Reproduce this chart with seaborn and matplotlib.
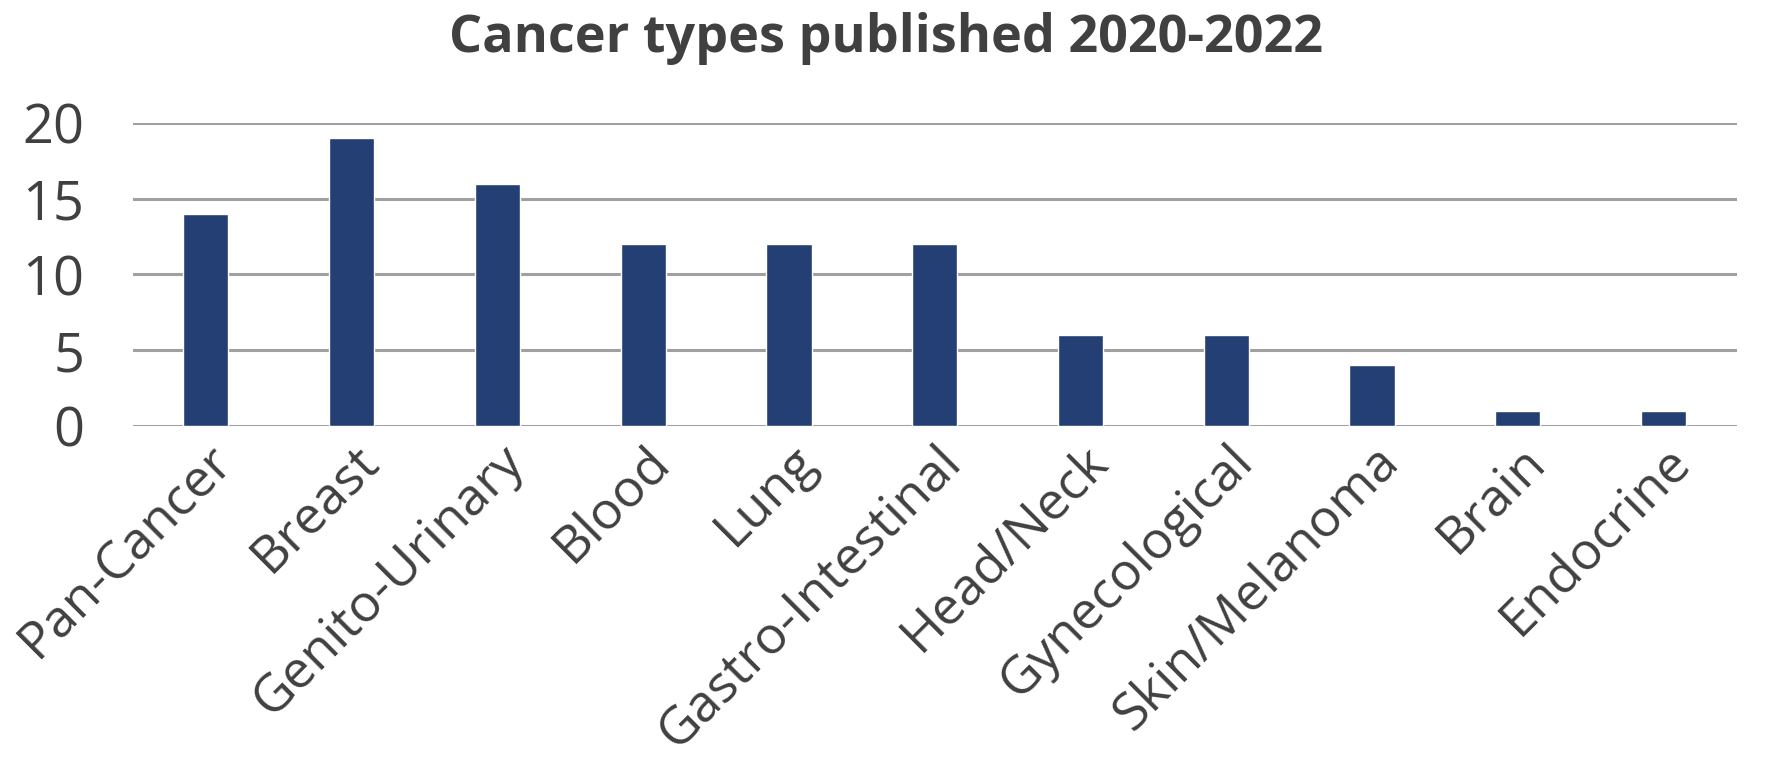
import matplotlib
matplotlib.use("Agg")
import matplotlib.pyplot as plt
import matplotlib.transforms as mtransforms
import pandas as pd
import seaborn as sns

cancer_types = [
    "Pan-Cancer", "Breast", "Genito-Urinary", "Blood", "Lung",
    "Gastro-Intestinal", "Head/Neck", "Gynecological", "Skin/Melanoma",
    "Brain", "Endocrine",
]
counts = [14, 19, 16, 12, 12, 12, 6, 6, 4, 1, 1]
y_ticks = [0, 5, 10, 15, 20]

TEXT = "#404040"
BAR = "#243F73"
GRID = "#A0A0A0"

sns.set_theme(style="white")
plt.rcParams["font.family"] = ["Open Sans", "DejaVu Sans"]

df = pd.DataFrame({"type": cancer_types, "count": counts})

fig = plt.figure(figsize=(17.72, 7.73), dpi=100)
ax = fig.add_axes([0.075, 0.4493, 0.905, 0.3916])

sns.barplot(data=df, x="type", y="count", color=BAR, width=0.31,
            saturation=1, ax=ax, zorder=3)

ax.set_ylim(0, 20)
ax.set_yticks(y_ticks)
ax.set_xlim(-0.5, len(cancer_types) - 0.5)
ax.yaxis.grid(True, color=GRID, linewidth=2.2, zorder=0)
ax.set_axisbelow(True)
for side in ("top", "right", "left", "bottom"):
    ax.spines[side].set_visible(False)

ax.set_xlabel("")
ax.set_ylabel("")
ax.tick_params(axis="y", length=0, labelsize=39, colors=TEXT, pad=35)
ax.tick_params(axis="x", length=0, labelsize=37.5, colors=TEXT, pad=20)
shift = mtransforms.ScaledTranslation(19 / 100, 0, fig.dpi_scale_trans)
for lbl in ax.get_xticklabels():
    lbl.set_rotation(45)
    lbl.set_ha("right")
    lbl.set_va("center")
    lbl.set_rotation_mode("anchor")
    lbl.set_transform(lbl.get_transform() + shift)

fig.suptitle("Cancer types published 2020-2022", x=0.5, y=0.985,
             fontsize=37.5, fontweight="bold", color=TEXT)

fig.savefig("out.png", dpi=100, facecolor="white")
plt.close(fig)
